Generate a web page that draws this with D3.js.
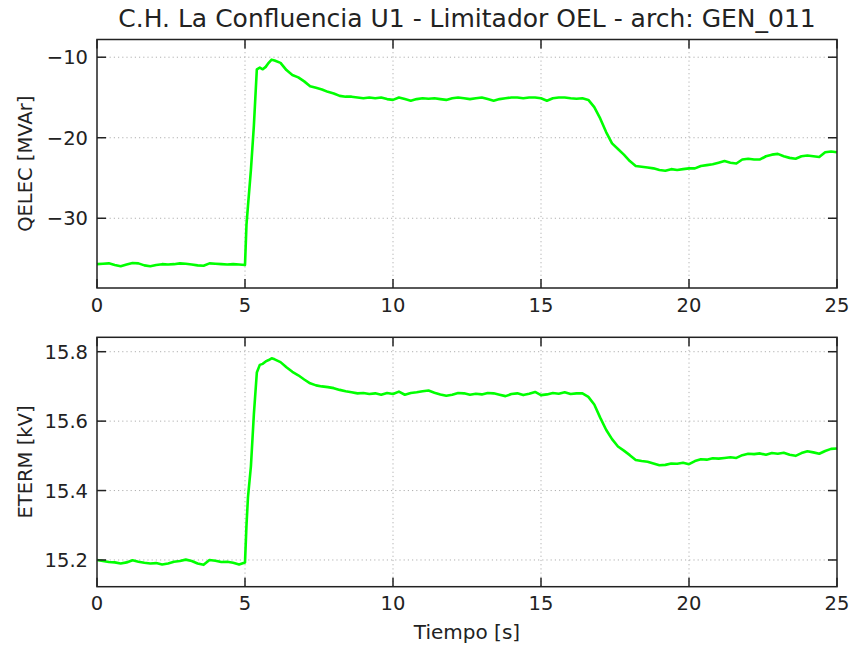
<!DOCTYPE html>
<html lang="en">
<head>
  <meta charset="UTF-8" />
  <title>C.H. La Confluencia U1 - Limitador OEL</title>
  <script src="https://d3js.org/d3.v7.min.js"></script>
  <style>
    body {
      margin: 0;
      background: #fff;
      font-family: "DejaVu Sans", sans-serif;
    }
    .grid line {
      stroke: #b0b0b0;
      stroke-width: 1;
      stroke-dasharray: 1.2, 3;
    }
    .frame {
      fill: none;
      stroke: #222;
      stroke-width: 1.5;
    }
    .tick-mark {
      stroke: #222;
      stroke-width: 1.5;
    }
    .tick-label {
      font-size: 19.5px;
      fill: #222;
    }
    .curve {
      fill: none;
      stroke: #00ff00;
      stroke-width: 2.6;
      stroke-linejoin: round;
    }
  </style>
</head>
<body>
  <svg width="853" height="648"></svg>

  <script>
    // shared time axis [s]
    const time = [
      0.0, 0.2, 0.4, 0.6, 0.8, 1.0, 1.2, 1.4, 1.6, 1.8, 2.0, 2.2, 2.4, 2.6, 2.8,
      3.0, 3.2, 3.4, 3.6, 3.8, 4.0, 4.2, 4.4, 4.6, 4.8, 5.0,
      5.05, 5.1, 5.2, 5.3, 5.4, 5.5, 5.6, 5.7, 5.8, 5.9,
      6.0, 6.2, 6.4, 6.6, 6.8, 7.0, 7.2, 7.4, 7.6, 7.8, 8.0, 8.2, 8.4, 8.6, 8.8,
      9.0, 9.2, 9.4, 9.6, 9.8, 10.0, 10.2, 10.4, 10.6, 10.8, 11.0, 11.2, 11.4, 11.6, 11.8,
      12.0, 12.2, 12.4, 12.6, 12.8, 13.0, 13.2, 13.4, 13.6, 13.8, 14.0, 14.2, 14.4, 14.6, 14.8,
      15.0, 15.2, 15.4, 15.6, 15.8, 16.0, 16.2, 16.4, 16.6, 16.8, 17.0, 17.2, 17.4, 17.6, 17.8,
      18.0, 18.2, 18.4, 18.6, 18.8, 19.0, 19.2, 19.4, 19.6, 19.8, 20.0, 20.2, 20.4, 20.6, 20.8,
      21.0, 21.2, 21.4, 21.6, 21.8, 22.0, 22.2, 22.4, 22.6, 22.8, 23.0, 23.2, 23.4, 23.6, 23.8,
      24.0, 24.2, 24.4, 24.6, 24.8, 25.0
    ];

    // reactive power [MVAr]
    const qelec = [
      -35.70, -35.65, -35.60, -35.80, -35.95, -35.75, -35.55, -35.60, -35.85, -35.95, -35.80, -35.70, -35.75, -35.70, -35.60,
      -35.65, -35.75, -35.85, -35.90, -35.60, -35.65, -35.70, -35.75, -35.70, -35.75, -35.80,
      -30.8, -28.5, -24.0, -18.5, -11.5, -11.3, -11.5, -11.2, -10.7, -10.3,
      -10.4, -10.7, -11.6, -12.2, -12.5, -13.0, -13.6, -13.8, -14.0, -14.3, -14.5, -14.8, -14.9, -14.9, -15.0,
      -15.1, -15.0, -15.1, -15.0, -15.2, -15.3, -15.0, -15.2, -15.4, -15.2, -15.1, -15.15, -15.1, -15.2, -15.3,
      -15.1, -15.0, -15.1, -15.2, -15.1, -15.0, -15.2, -15.4, -15.2, -15.1, -15.0, -15.0, -15.1, -15.0, -15.0,
      -15.1, -15.4, -15.1, -15.0, -15.0, -15.1, -15.15, -15.1, -15.3, -16.2, -17.6, -19.3, -20.7, -21.4, -22.1,
      -22.9, -23.5, -23.6, -23.7, -23.8, -24.0, -24.1, -23.9, -24.0, -23.9, -23.8, -23.8, -23.5, -23.4, -23.3,
      -23.1, -22.9, -23.1, -23.2, -22.7, -22.6, -22.7, -22.7, -22.3, -22.1, -22.0, -22.3, -22.5, -22.6, -22.3,
      -22.2, -22.3, -22.4, -21.8, -21.7, -21.8
    ];

    // terminal voltage [kV]
    const eterm = [
      15.200, 15.197, 15.194, 15.193, 15.190, 15.193, 15.199, 15.195, 15.192, 15.190, 15.191, 15.187, 15.190, 15.195, 15.197,
      15.201, 15.197, 15.190, 15.186, 15.200, 15.198, 15.194, 15.195, 15.192, 15.187, 15.193,
      15.300, 15.380, 15.470, 15.620, 15.740, 15.762, 15.765, 15.772, 15.776, 15.781,
      15.778, 15.770, 15.755, 15.742, 15.732, 15.720, 15.709, 15.703, 15.700, 15.698, 15.695, 15.690, 15.686, 15.683, 15.680,
      15.681, 15.678, 15.680, 15.676, 15.681, 15.678, 15.685, 15.676, 15.681, 15.683, 15.686, 15.688, 15.682, 15.677, 15.673,
      15.676, 15.681, 15.680, 15.676, 15.679, 15.677, 15.681, 15.680, 15.676, 15.672, 15.678, 15.680, 15.675, 15.679, 15.684,
      15.675, 15.677, 15.681, 15.679, 15.683, 15.678, 15.680, 15.680, 15.670, 15.648, 15.610, 15.575, 15.548, 15.527, 15.515,
      15.502, 15.488, 15.485, 15.483, 15.478, 15.473, 15.474, 15.478, 15.477, 15.480, 15.476, 15.485, 15.490, 15.489, 15.493,
      15.492, 15.494, 15.496, 15.494, 15.502, 15.506, 15.505, 15.507, 15.503, 15.508, 15.506, 15.509, 15.503, 15.500, 15.508,
      15.513, 15.510, 15.506, 15.514, 15.520, 15.521
    ];

    const xTicks = [0, 5, 10, 15, 20, 25];
    const qTicks = [-30, -20, -10];
    const eTicks = [15.2, 15.4, 15.6, 15.8];

    const svg = d3.select("svg");
    const left = 97, right = 837, tickLen = 9;

    svg.append("text")
      .attr("x", (left + right) / 2)
      .attr("y", 27)
      .attr("text-anchor", "middle")
      .style("font-size", "25px")
      .style("fill", "#222")
      .text("C.H. La Confluencia U1 - Limitador OEL - arch: GEN_011");

    function panel(top, bottom, yDomain, yTicks, yFmt, values, ylabel) {
      const x = d3.scaleLinear().domain([0, 25]).range([left, right]);
      const y = d3.scaleLinear().domain(yDomain).range([bottom, top]);
      const g = svg.append("g");

      // dotted grid
      const grid = g.append("g").attr("class", "grid");
      grid.selectAll(".vx").data(xTicks.slice(1, -1)).join("line")
        .attr("x1", d => x(d)).attr("x2", d => x(d))
        .attr("y1", top).attr("y2", bottom);
      grid.selectAll(".hy").data(yTicks).join("line")
        .attr("x1", left).attr("x2", right)
        .attr("y1", d => y(d)).attr("y2", d => y(d));

      // signal
      g.append("path")
        .datum(time.map((t, i) => [t, values[i]]))
        .attr("class", "curve")
        .attr("d", d3.line().x(d => x(d[0])).y(d => y(d[1])));

      // inward ticks on all four sides
      const ticks = g.append("g");
      xTicks.forEach(t => {
        ticks.append("line").attr("class", "tick-mark")
          .attr("x1", x(t)).attr("x2", x(t)).attr("y1", bottom).attr("y2", bottom - tickLen);
        ticks.append("line").attr("class", "tick-mark")
          .attr("x1", x(t)).attr("x2", x(t)).attr("y1", top).attr("y2", top + tickLen);
        ticks.append("text").attr("class", "tick-label")
          .attr("x", x(t)).attr("y", bottom + 23.5)
          .attr("text-anchor", "middle")
          .text(t);
      });
      yTicks.forEach(v => {
        ticks.append("line").attr("class", "tick-mark")
          .attr("x1", left).attr("x2", left + tickLen).attr("y1", y(v)).attr("y2", y(v));
        ticks.append("line").attr("class", "tick-mark")
          .attr("x1", right).attr("x2", right - tickLen).attr("y1", y(v)).attr("y2", y(v));
        ticks.append("text").attr("class", "tick-label")
          .attr("x", left - 9).attr("y", y(v))
          .attr("dy", "0.36em")
          .attr("text-anchor", "end")
          .text(yFmt(v));
      });

      g.append("rect").attr("class", "frame")
        .attr("x", left).attr("y", top)
        .attr("width", right - left).attr("height", bottom - top);

      g.append("text")
        .attr("transform", `translate(32,${(top + bottom) / 2}) rotate(-90)`)
        .attr("text-anchor", "middle")
        .style("font-size", "19.5px")
        .style("fill", "#222")
        .text(ylabel);
    }

    panel(39.5, 288, [-38.66, -7.8], qTicks, d => d3.format("d")(d).replace("-", "\u2212"), qelec, "QELEC [MVAr]");
    panel(337.3, 586.7, [15.123, 15.8415], eTicks, d3.format(".1f"), eterm, "ETERM [kV]");

    svg.append("text")
      .attr("x", (left + right) / 2)
      .attr("y", 639)
      .attr("text-anchor", "middle")
      .style("font-size", "20px")
      .style("fill", "#222")
      .text("Tiempo [s]");
  </script>
</body>
</html>
